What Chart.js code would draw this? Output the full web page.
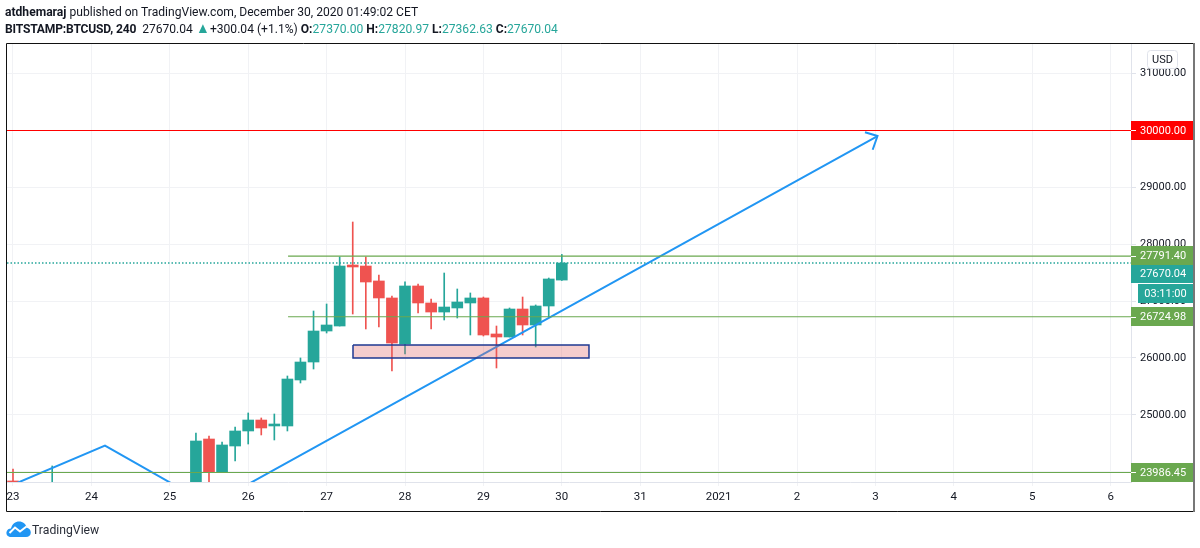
<!DOCTYPE html>
<html>
<head>
<meta charset="utf-8">
<title>BTCUSD 240</title>
<script src="https://cdn.jsdelivr.net/npm/chart.js@4/dist/chart.umd.min.js"></script>
<style>
    html, body { margin: 0; padding: 0; background: #fff; }
    #wrap { position: relative; width: 1200px; height: 548px; overflow: hidden; font-family: Roboto, sans-serif; color: #131722; }
    canvas { position: absolute; left: 0; top: 0; }
    .head { position: absolute; left: 5px; font-size: 13px; line-height: 16px; white-space: nowrap; transform: scaleX(0.93); transform-origin: left center; }
    .head b { font-weight: 700; }
    .head i { font-style: normal; color: #26a69a; }
    .head .sym { letter-spacing: -0.2px; }
    .head .arrow { font-size: 15px; line-height: 0; margin-right: -3px; }
    #line1 { top: 4px; }
    #line2 { top: 21px; }
    #brand { position: absolute; left: 6px; top: 520px; height: 18px; }
    #brandText { position: absolute; left: 32px; top: 522px; font-size: 13px; line-height: 16px; color: #2a2e39; transform: scaleX(0.94); transform-origin: left center; }
</style>
</head>
<body>
<div id="wrap">
    <canvas id="chart" width="1200" height="548"></canvas>
    <div class="head" id="line1"><b>atdhemaraj</b> published on TradingView.com, December 30, 2020 01:49:02 CET</div>
    <div class="head" id="line2"><b class="sym">BITSTAMP:BTCUSD, 240</b>&nbsp; 27670.04 <i class="arrow">&#9650;</i> +300.04 (+1.1%) <b>O:</b><i>27370.00</i> <b>H:</b><i>27820.97</i> <b>L:</b><i>27362.63</i> <b>C:</b><i>27670.04</i></div>
    <svg id="brand" width="25" height="18" viewBox="0 0 25 18">
        <path d="M5 17 C1.5 17 0 14.5 0.5 12 C1 9.5 3 8.5 5 8.5 C6 4 9.5 1.5 13 1.5 C17 1.5 20 4 20.5 7.5 C23 8 24.8 10 24.8 12.5 C24.8 15.3 22.8 17 20 17 Z" fill="#2196f3"/>
        <path d="M3.5 13 L9 7.5 L14 11.5 L20.5 6.5" fill="none" stroke="#fff" stroke-width="2"/>
    </svg>
    <div id="brandText">TradingView</div>
</div>
<script>
// 4h candles, x = candle number counted from the Dec 23 00:00 bar
const candleIndex = [0, 3, 14, 15, 16, 17, 18, 19, 20, 21, 22, 23, 24, 25, 26, 27, 28, 29, 30, 31, 32, 33, 34, 35, 36, 37, 38, 39, 40, 41, 42];
const opens  = [23837, 23500, 23500, 24575, 23995, 24452, 24716, 24909, 24804, 24804, 25613, 25929, 26474, 26562, 27635, 27617, 27354, 27055, 26246, 27266, 26967, 26808, 26879, 26967, 27055, 26422, 26369, 26861, 26580, 26914, 27370];
const highs  = [24048, 24101, 24681, 24628, 24523, 24786, 25033, 24945, 25015, 25683, 26000, 26826, 26949, 27776, 28391, 27776, 27459, 27090, 27337, 27301, 27037, 27494, 27213, 27143, 27072, 26562, 26879, 27072, 26932, 27406, 27820.97];
const lows   = [23700, 23450, 23450, 23780, 23995, 24189, 24487, 24646, 24558, 24716, 25560, 25806, 26439, 26562, 26773, 26510, 26545, 25771, 26070, 26791, 26510, 26668, 26703, 26404, 26386, 25824, 26369, 26404, 26193, 26721, 27362.63];
const closes = [23760, 23700, 24540, 23995, 24470, 24716, 24909, 24769, 24839, 25630, 25929, 26474, 26580, 27617, 27600, 27336, 27055, 26263, 27266, 26967, 26808, 26896, 26984, 27055, 26404, 26369, 26861, 26580, 26914, 27389, 27670.04];

// Price levels and their axis tags
const resistanceLevel = 30000;
const upperLevel = 27791.40;
const lastPrice = 27670.04;
const middleLevel = 26724.98;
const lowerLevel = 23986.45;
const countdownLabel = '03:11:00';

// Hand drawn objects (candle number, price)
const zigzagIdx = [0, 7.04, 15.08, 66.16];
const zigzagPrice = [23772, 24459, 23410, 29903];
const arrowIdx = [65.2, 66.16, 65.79];
const arrowPrice = [29968, 29903, 29662];
const boxIdx = [26.02, 44.08];
const boxPrice = [26000, 26228];
const levelStartIdx = 21.05;

// Axes
const dayTicks = [0, 6, 12, 18, 24, 30, 36, 42, 48, 54, 60, 66, 72, 78, 84];
const dayLabels = ['23', '24', '25', '26', '27', '28', '29', '30', '31', '2021', '2', '3', '4', '5', '6'];
const priceTicks = [24000, 25000, 26000, 27000, 28000, 29000, 30000, 31000];
const xMin = -0.459, xMax = 85.56;
const yMin = 23819, yMax = 31521;

const UP = '#26a69a', DOWN = '#ef5350', GREEN = '#6aa84f', RED = '#ff0000', BLUE = '#2196f3';
const GRID = '#f1f2f5', AXIS = '#e0e3eb', FONT = 'Roboto, sans-serif';

const candleColors = closes.map((c, i) => c >= opens[i] ? UP : DOWN);

function path(xs, ys) {
    return xs.map((x, i) => ({ x: x, y: ys[i] }));
}

function hLine(from, price, color, extra) {
    return Object.assign({
        type: 'line',
        data: [{ x: from, y: price }, { x: xMax, y: price }],
        borderColor: color,
        borderWidth: 1.2,
        pointRadius: 0
    }, extra);
}

// Right axis tags, countdown and the outer frame
const overlay = {
    id: 'overlay',
    afterDraw(chart) {
        const ctx = chart.ctx;
        const y = chart.scales.y;
        const area = chart.chartArea;
        const tags = [
            { v: lowerLevel, text: '23986.45', bg: GREEN, top: 463, h: 19 },
            { v: middleLevel, text: '26724.98', bg: GREEN, top: 307, h: 19 },
            { v: lastPrice, text: '27670.04', bg: UP, top: 265, h: 18 },
            { v: upperLevel, text: '27791.40', bg: GREEN, top: 246, h: 19 },
            { v: resistanceLevel, text: '30000.00', bg: RED, top: 121, h: 19 }
        ];
        ctx.save();
        ctx.font = '11px ' + FONT;
        ctx.textBaseline = 'middle';
        tags.forEach(t => {
            ctx.fillStyle = t.bg;
            ctx.fillRect(area.right, t.top, 63, t.h);
            ctx.fillStyle = '#fff';
            ctx.fillRect(area.right, Math.round(y.getPixelForValue(t.v)), 5, 1);
            ctx.textAlign = 'left';
            ctx.fillText(t.text, 1140, t.top + t.h / 2 + 0.5);
        });

        // Bar countdown
        ctx.fillStyle = UP;
        ctx.fillRect(1138, 284, 55, 19);
        ctx.fillStyle = '#fff';
        ctx.textAlign = 'center';
        ctx.fillText(countdownLabel, 1165.5, 294);

        // Currency button
        ctx.fillStyle = 'rgba(255,255,255,0.85)';
        ctx.strokeStyle = AXIS;
        ctx.lineWidth = 1;
        ctx.beginPath();
        ctx.roundRect(1147.5, 50.5, 30, 18, 3);
        ctx.fill();
        ctx.stroke();
        ctx.fillStyle = '#131722';
        ctx.fillText('USD', 1162.5, 60);

        // Frame
        ctx.strokeStyle = '#111';
        ctx.lineWidth = 1;
        ctx.beginPath();
        ctx.moveTo(1194, 43.5);
        ctx.lineTo(6.5, 43.5);
        ctx.lineTo(6.5, 511.5);
        ctx.lineTo(1194, 511.5);
        ctx.stroke();
        ctx.strokeStyle = '#777';
        ctx.lineWidth = 2;
        ctx.beginPath();
        ctx.moveTo(1194, 43);
        ctx.lineTo(1194, 512);
        ctx.stroke();
        ctx.restore();
    }
};

new Chart(document.getElementById('chart'), {
    type: 'bar',
    plugins: [overlay],
    data: {
        datasets: [
            {
                label: 'wicks',
                data: candleIndex.map((x, i) => ({ x: x, y: [lows[i], highs[i]] })),
                backgroundColor: candleColors,
                barThickness: 1,
                grouped: false,
                order: 6
            },
            {
                label: 'bodies',
                data: candleIndex.map((x, i) => ({ x: x, y: [opens[i], closes[i]] })),
                backgroundColor: candleColors,
                barThickness: 11,
                grouped: false,
                order: 5
            },
            {
                type: 'line',
                label: 'zigzag',
                data: path(zigzagIdx, zigzagPrice),
                borderColor: BLUE,
                borderWidth: 2,
                pointRadius: 0,
                order: 3
            },
            {
                type: 'line',
                label: 'arrow',
                data: path(arrowIdx, arrowPrice),
                borderColor: BLUE,
                borderWidth: 2,
                pointRadius: 0,
                order: 3
            },
            {
                type: 'line',
                label: 'box',
                data: path(
                    [boxIdx[0], boxIdx[1], boxIdx[1], boxIdx[0], boxIdx[0]],
                    [boxPrice[1], boxPrice[1], boxPrice[0], boxPrice[0], boxPrice[1]]
                ),
                borderColor: '#1f3a93',
                borderWidth: 1.5,
                backgroundColor: 'rgba(224, 102, 102, 0.33)',
                fill: 'shape',
                pointRadius: 0,
                order: 2
            },
            hLine(xMin, lastPrice, UP, { label: 'last', borderDash: [1.5, 2], borderWidth: 1.4, order: 4 }),
            hLine(xMin, resistanceLevel, RED, { label: 'resistance', order: 1 }),
            hLine(levelStartIdx, upperLevel, GREEN, { label: 'upper', order: 1 }),
            hLine(levelStartIdx, middleLevel, GREEN, { label: 'middle', order: 1 }),
            hLine(xMin, lowerLevel, GREEN, { label: 'lower', order: 1 })
        ]
    },
    options: {
        responsive: false,
        animation: false,
        events: [],
        layout: { padding: { left: 7, top: 44, right: 6, bottom: 37 } },
        plugins: { legend: { display: false }, tooltip: { enabled: false }, title: { display: false } },
        scales: {
            x: {
                type: 'linear',
                offset: false,
                min: xMin,
                max: xMax,
                afterFit(scale) { scale.height = 29; },
                afterBuildTicks(scale) { scale.ticks = dayTicks.map(v => ({ value: v })); },
                grid: { offset: false, color: GRID, tickColor: GRID, tickLength: 4 },
                border: { color: AXIS },
                ticks: {
                    autoSkip: false,
                    maxRotation: 0,
                    padding: 4,
                    color: '#131722',
                    font: { family: FONT, size: 11.5 },
                    callback: value => dayLabels[dayTicks.indexOf(value)]
                }
            },
            y: {
                position: 'right',
                min: yMin,
                max: yMax,
                beginAtZero: false,
                afterFit(scale) { scale.width = 63; },
                afterBuildTicks(scale) { scale.ticks = priceTicks.map(v => ({ value: v })); },
                grid: { color: GRID, tickColor: AXIS, tickLength: 5 },
                border: { color: AXIS },
                ticks: {
                    padding: 4,
                    color: '#131722',
                    font: { family: FONT, size: 11 },
                    callback: value => value.toFixed(2)
                }
            }
        }
    }
});
</script>
</body>
</html>
